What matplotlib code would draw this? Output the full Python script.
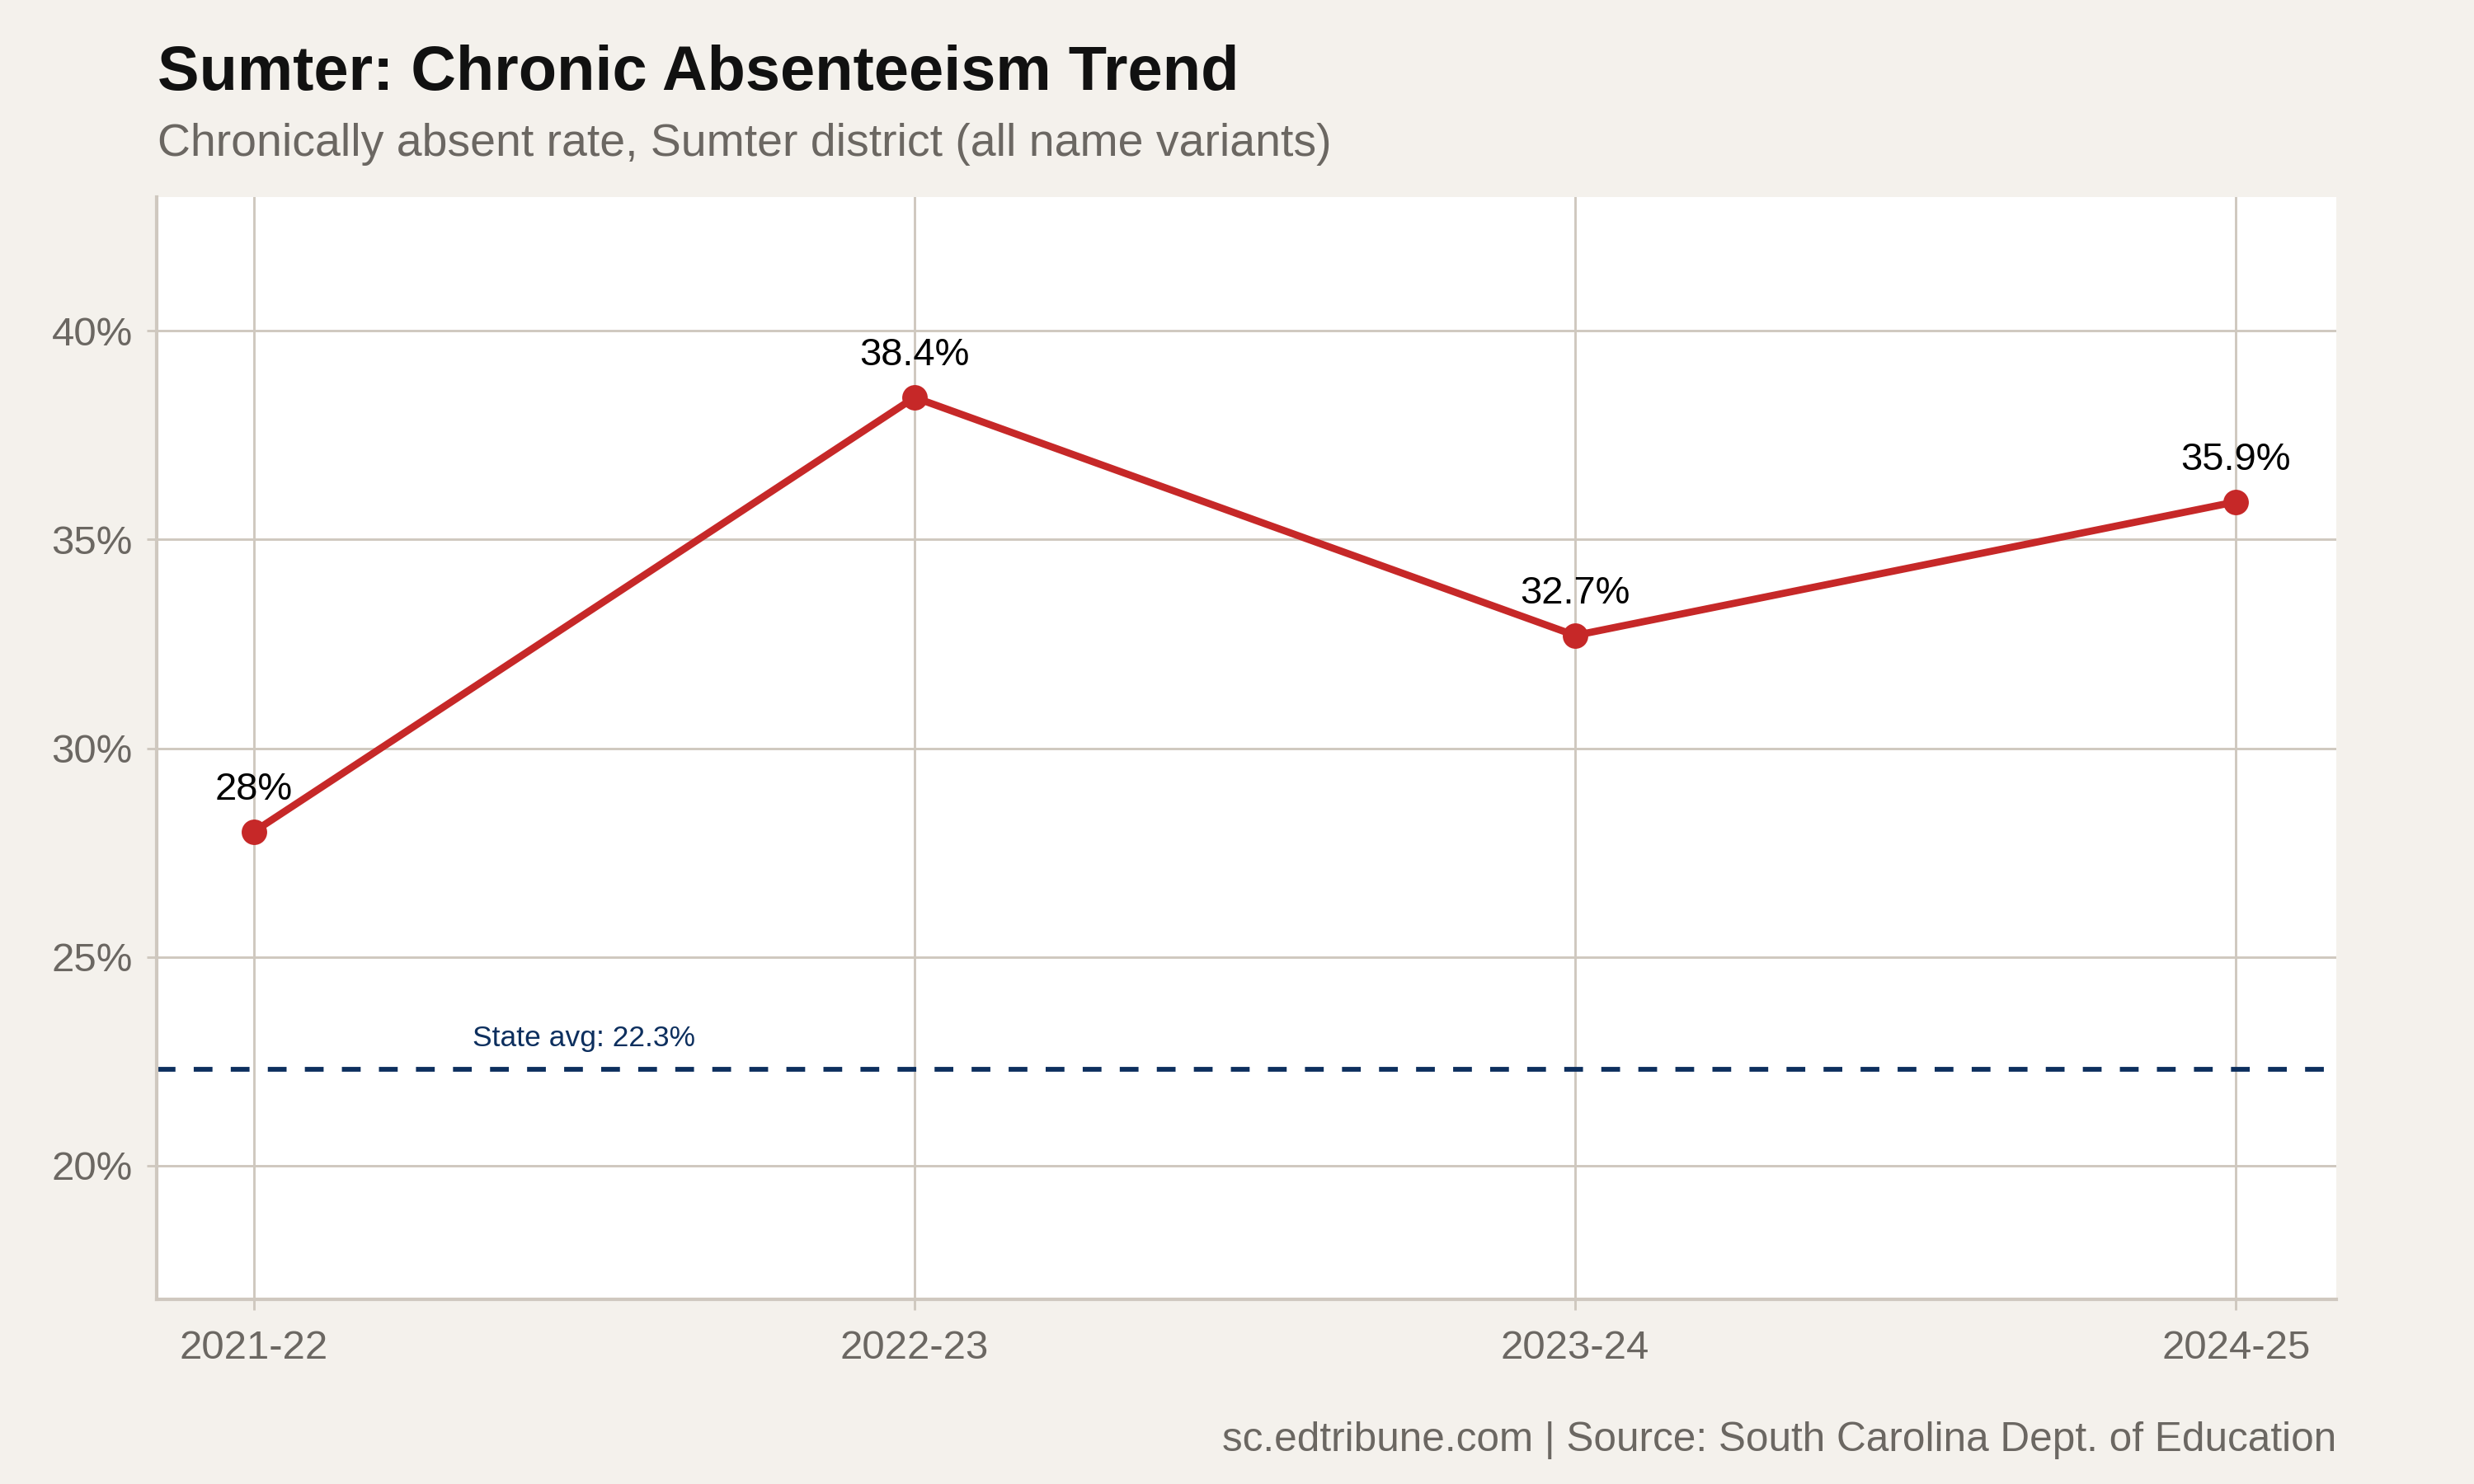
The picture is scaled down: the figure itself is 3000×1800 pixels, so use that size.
import numpy as np
import matplotlib.pyplot as plt

plt.rcParams['font.family'] = ['Liberation Sans', 'DejaVu Sans']

# data
years = ['2021-22', '2022-23', '2023-24', '2024-25']
rates = [28.0, 38.4, 32.7, 35.9]
labels = ['28%', '38.4%', '32.7%', '35.9%']
state_avg = 22.3
yticks = [20, 25, 30, 35, 40]

bg = '#F4F1EC'
grid_col = '#CFC8BF'
red = '#C62828'
navy = '#0D2F5E'
gray = '#6B6762'

fig = plt.figure(figsize=(10, 6), dpi=300, facecolor=bg)
ax = fig.add_axes([190/3000, 1 - 1576/1800, (2833-190)/3000, (1576-239)/1800])
ax.set_facecolor('white')

x = np.arange(len(years))
ax.plot(x, rates, color=red, lw=2.1, zorder=3)
ax.scatter(x, rates, s=55, color=red, zorder=4, linewidths=0)
for xi, yi, lab in zip(x, rates, labels):
    ax.annotate(lab, (xi, yi), xytext=(0, 7), textcoords='offset points',
                ha='center', va='bottom', fontsize=11.3, color='black')

ax.axhline(state_avg, color=navy, lw=1.4, ls=(0, (3.9, 3.8)), zorder=2)
ax.text(0.5, state_avg + 0.42, f'State avg: {state_avg}%', color=navy,
        fontsize=8.5, ha='center', va='bottom')

ax.set_xlim(-0.147, 3.152)
ax.set_ylim(16.8, 43.2)
ax.set_xticks(x)
ax.set_xticklabels(years)
ax.set_yticks(yticks)
ax.set_yticklabels([f'{t}%' for t in yticks])
ax.grid(True, color=grid_col, lw=0.7, zorder=0)
ax.set_axisbelow(True)

for s in ['top', 'right']:
    ax.spines[s].set_visible(False)
for s in ['left', 'bottom']:
    ax.spines[s].set_color(grid_col)
    ax.spines[s].set_linewidth(1.0)
ax.tick_params(axis='both', colors=grid_col, width=0.7, length=3,
               labelcolor=gray, labelsize=11.8)
ax.tick_params(axis='x', pad=6)
ax.tick_params(axis='y', pad=4)

fig.text(191/3000, 1 - 90/1800, 'Sumter: Chronic Absenteeism Trend',
         fontsize=18.2, fontweight='bold', color='#111111', va='center', ha='left')
fig.text(191/3000, 1 - 175/1800, 'Chronically absent rate, Sumter district (all name variants)',
         fontsize=13.3, color=gray, va='center', ha='left')
fig.text(2833/3000, 1 - 1747/1800,
         'sc.edtribune.com | Source: South Carolina Dept. of Education',
         fontsize=11.9, color=gray, va='center', ha='right')

fig.savefig('out.png', dpi=300, facecolor=bg)
